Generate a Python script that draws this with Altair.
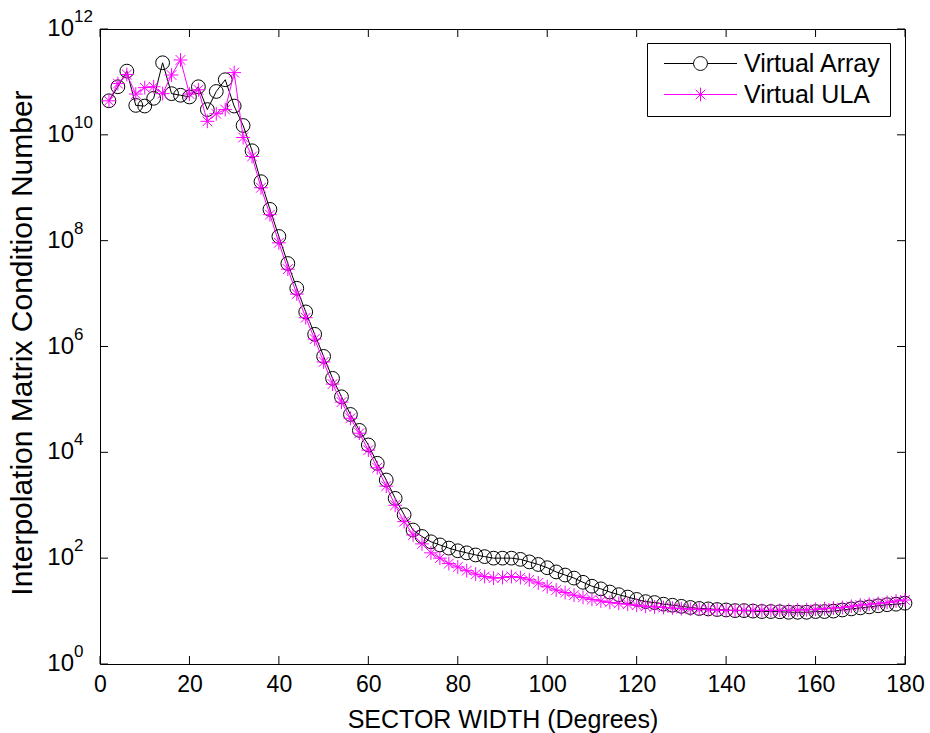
import altair as alt
import pandas as pd

# ---------------- data ----------------
sector_width = list(range(2, 181, 2))

virtual_array = [
    4.4e10, 8.1e10, 1.6e11, 3.6e10, 3.5e10, 4.9e10, 2.3e11, 6.0e10, 5.6e10, 5.2e10,
    8.1e10, 3.0e10, 6.6e10, 1.1e11, 3.5e10, 1.5e10, 5.0e9, 1.3e9, 3.9e8, 1.2e8,
    3.7e7, 1.26e7, 4.5e6, 1.7e6, 6.5e5, 2.5e5, 1.12e5, 5.2e4, 2.6e4, 1.38e4,
    6.2e3, 3.0e3, 1.35e3, 660, 340, 257, 204, 178, 155, 138,
    126, 115, 107, 100, 100, 100, 95, 85, 76, 66,
    55, 48, 42, 35, 29.5, 26.3, 22.9, 20.4, 18.4, 16.6,
    15.1, 14.5, 13.5, 12.9, 12.3, 11.7, 11.2, 11.0, 10.7, 10.5,
    10.2, 10.2, 10.0, 9.8, 9.8, 9.7, 9.5, 9.5, 9.5, 9.8,
    9.8, 10.0, 10.5, 11.0, 11.5, 12.0, 12.6, 13.2, 13.5, 14.1,
]

virtual_ula = [
    4.4e10, 9.3e10, 1.38e11, 5.9e10, 7.8e10, 8.1e10, 6.0e10, 1.35e11, 2.6e11, 5.9e10,
    7.1e10, 1.8e10, 2.5e10, 3.0e10, 1.5e11, 8.9e9, 3.9e9, 1.0e9, 3.1e8, 9.1e7,
    2.9e7, 9.8e6, 3.5e6, 1.38e6, 5.1e5, 1.95e5, 8.9e4, 4.4e4, 2.3e4, 1.1e4,
    5.1e3, 2.3e3, 1.0e3, 490, 275, 186, 126, 100, 79, 68,
    58, 50, 45, 42, 43, 45, 43, 39, 34, 29,
    25, 22.4, 20, 18.2, 16.6, 15.5, 14.6, 14.0, 13.5, 12.9,
    12.3, 12.0, 11.7, 11.4, 11.1, 10.9, 10.8, 10.6, 10.5, 10.3,
    10.3, 10.3, 10.3, 10.3, 10.3, 10.3, 10.3, 10.5, 10.6, 10.8,
    11.1, 11.4, 11.7, 12.3, 13.0, 13.5, 14.0, 14.6, 15.5, 16.2,
]

series_names = ["Virtual Array", "Virtual ULA"]
series_colors = ["black", "#ff00ff"]
x_ticks = [0, 20, 40, 60, 80, 100, 120, 140, 160, 180]
y_tick_values = [1, 1e2, 1e4, 1e6, 1e8, 1e10, 1e12]
y_tick_exponents = ["0", "2", "4", "6", "8", "10", "12"]

# ---------------- tables ----------------
df = pd.DataFrame({
    "w": sector_width + sector_width,
    "k": virtual_array + virtual_ula,
    "series": [series_names[0]] * len(sector_width) + [series_names[1]] * len(sector_width),
})
xt = pd.DataFrame({"w": x_ticks})
yt = pd.DataFrame({"k": y_tick_values, "exp": y_tick_exponents, "base": ["10"] * len(y_tick_values)})

FONT = "Liberation Sans"
W, H = 805, 635
TICK = 8
MSIZE = 190

xs = alt.Scale(domain=[0, 180], nice=False, zero=False)
ys = alt.Scale(type="log", domain=[1, 1e12], nice=False)

x_enc = alt.X("w:Q", scale=xs, axis=alt.Axis(
    values=x_ticks, ticks=False, domain=False, grid=False, labelFlush=False,
    labelFont=FONT, labelFontSize=23, labelColor="black", labelPadding=9,
    title="SECTOR WIDTH (Degrees)", titleFont=FONT, titleFontSize=25,
    titleFontWeight="normal", titleColor="black", titleY=55, titleBaseline="middle"))
y_enc = alt.Y("k:Q", scale=ys, axis=alt.Axis(
    labels=False, ticks=False, domain=False, grid=False,
    title="Interpolation Matrix Condition Number", titleFont=FONT, titleFontSize=30,
    titleFontWeight="normal", titleColor="black", titleX=-78, titleY=H / 2 - 4,
    titleAngle=-90, titleBaseline="middle", titleAlign="center"))

asterisk = "M-1,0L1,0M0,-1L0,1M-0.707,-0.707L0.707,0.707M-0.707,0.707L0.707,-0.707"
leg_circle = "M-5.3,0L-1,0M1,0L5.3,0M1,0A1,1,0,1,1,-1,0A1,1,0,1,1,1,0"
leg_star = "M-5.3,0L5.3,0M0,-1L0,1M-0.707,-0.707L0.707,0.707M-0.707,0.707L0.707,-0.707"

base = alt.Chart(df)

line_a = base.transform_filter(alt.datum.series == series_names[0]).mark_line(
    color=series_colors[0], strokeWidth=1).encode(x=x_enc, y=y_enc)
pts_a = base.transform_filter(alt.datum.series == series_names[0]).mark_point(
    shape="circle", size=MSIZE, filled=False, color=series_colors[0], strokeWidth=1, opacity=1
).encode(x=x_enc, y=y_enc)
line_u = base.transform_filter(alt.datum.series == series_names[1]).mark_line(
    color=series_colors[1], strokeWidth=1).encode(x=x_enc, y=y_enc)
pts_u = base.transform_filter(alt.datum.series == series_names[1]).mark_point(
    shape=asterisk, size=MSIZE, filled=False, color=series_colors[1], strokeWidth=1, opacity=1
).encode(x=x_enc, y=y_enc)

leg_props = dict(
    orient="none", legendX=547, legendY=14, title=None,
    strokeColor="black", fillColor="white", padding=8, cornerRadius=0,
    labelFont=FONT, labelFontSize=25, labelColor="black",
    symbolSize=MSIZE, symbolStrokeWidth=1, symbolOffset=33, labelOffset=31,
    rowPadding=5, symbolOpacity=1,
)
legend_layer = base.transform_filter(alt.datum.w < 0).mark_point(filled=False).encode(
    x=x_enc, y=y_enc,
    color=alt.Color("series:N", scale=alt.Scale(domain=series_names, range=series_colors),
                    legend=alt.Legend(**leg_props)),
    shape=alt.Shape("series:N", scale=alt.Scale(domain=series_names, range=[leg_circle, leg_star]),
                    legend=alt.Legend(**leg_props)),
)

tick_bottom = alt.Chart(xt).mark_rule(color="black", strokeWidth=1).encode(
    x=x_enc, y=alt.value(H), y2=alt.value(H - TICK))
tick_top = alt.Chart(xt).mark_rule(color="black", strokeWidth=1).encode(
    x=x_enc, y=alt.value(0), y2=alt.value(TICK))
tick_left = alt.Chart(yt).mark_rule(color="black", strokeWidth=1).encode(
    y=y_enc, x=alt.value(0), x2=alt.value(TICK))
tick_right = alt.Chart(yt).mark_rule(color="black", strokeWidth=1).encode(
    y=y_enc, x=alt.value(W), x2=alt.value(W - TICK))

ylab_base = alt.Chart(yt).mark_text(
    align="right", baseline="middle", font=FONT, fontSize=24, color="black"
).encode(y=y_enc, x=alt.value(-26), text="base:N")
ylab_exp = alt.Chart(yt).mark_text(
    align="left", baseline="middle", font=FONT, fontSize=17, color="black", dy=-12
).encode(y=y_enc, x=alt.value(-26), text="exp:N")

chart = alt.layer(
    line_a, pts_a, line_u, pts_u, legend_layer,
    tick_bottom, tick_top, tick_left, tick_right, ylab_base, ylab_exp,
).properties(
    width=W, height=H,
    autosize=alt.AutoSizeParams(type="none"),
    padding={"left": 100, "top": 29, "right": 25, "bottom": 69},
    background="white",
).configure_view(stroke="black", strokeWidth=1)

chart.save("out.html", embed_options={"renderer": "svg", "actions": False})
